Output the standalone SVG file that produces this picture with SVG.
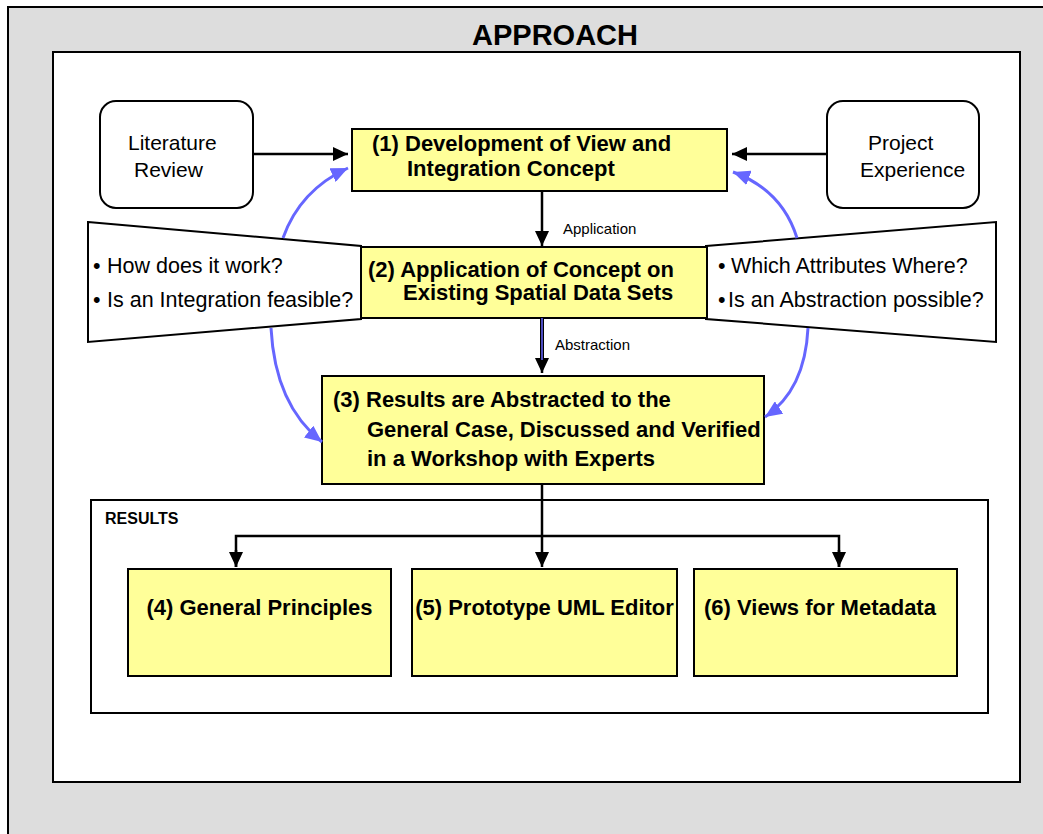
<svg xmlns="http://www.w3.org/2000/svg" width="1043" height="834" viewBox="0 0 1043 834">
<defs>
<style>
.t{font-family:"Liberation Sans",Arial,sans-serif;fill:#000}
.b{font-weight:bold;font-size:22px}
.r{font-size:21px}
.q{font-size:21.5px}
.s{font-size:15px}
.box{fill:#ffff99;stroke:#000;stroke-width:2}
.wb{fill:#fff;stroke:#000;stroke-width:2}
.ln{fill:none;stroke:#000;stroke-width:2.5}
.bl{fill:none;stroke:#6666ff;stroke-width:3}
</style>
<marker id="ah" markerUnits="userSpaceOnUse" markerWidth="15" markerHeight="14" refX="15" refY="7" orient="auto"><path d="M0,0 L15,7 L0,14 z" fill="#000"/></marker>
<marker id="bh" markerUnits="userSpaceOnUse" markerWidth="17" markerHeight="15" refX="17" refY="7.5" orient="auto"><path d="M0,0 L17,7.5 L0,15 z" fill="#6666ff"/></marker>
</defs>
<g id="frame">
<rect x="8" y="7" width="1100" height="900" fill="#dddddd" stroke="#000" stroke-width="2"/>
<text class="t" x="555" y="45" text-anchor="middle" font-size="29" font-weight="bold">APPROACH</text>
<rect x="53" y="52" width="967" height="730" fill="#fff" stroke="#000" stroke-width="2"/>
</g>
<g id="results-frame">
<rect x="91" y="500" width="897" height="213" class="wb"/>
<text class="t" x="105" y="524" font-size="16" font-weight="bold">RESULTS</text>
</g>
<g id="literature">
<rect x="100" y="101" width="153" height="107" rx="16" class="wb"/>
<text class="t r" x="128" y="150">Literature</text>
<text class="t r" x="134" y="177">Review</text>
</g>
<g id="project">
<rect x="827" y="101" width="152" height="107" rx="16" class="wb"/>
<text class="t r" x="868" y="150">Project</text>
<text class="t r" x="860" y="177">Experience</text>
</g>
<g id="questions-left">
<polygon points="88,222 361,246 361,319 88,342" class="wb"/>
<text class="t q" x="93" y="273">•</text>
<text class="t q" x="107" y="273">How does it work?</text>
<text class="t q" x="93" y="307">•</text>
<text class="t q" x="107" y="307">Is an Integration feasible?</text>
</g>
<g id="questions-right">
<polygon points="706,246 996,222 996,342 706,319" class="wb"/>
<text class="t q" x="718" y="273">•</text>
<text class="t q" x="731" y="273">Which Attributes Where?</text>
<text class="t q" x="718" y="307">•</text>
<text class="t q" x="728" y="307">Is an Abstraction possible?</text>
</g>
<g id="step1">
<rect x="352" y="129" width="375" height="62" class="box"/>
<text class="t b" x="372" y="151">(1) Development of View and</text>
<text class="t b" x="407" y="176">Integration Concept</text>
</g>
<g id="step2">
<rect x="361" y="247" width="346" height="71" class="box"/>
<text class="t b" x="368" y="277">(2) Application of Concept on</text>
<text class="t b" x="403" y="300">Existing Spatial Data Sets</text>
</g>
<g id="step3">
<rect x="322" y="376" width="442" height="108" class="box"/>
<text class="t b" x="333" y="407">(3) Results are Abstracted to the</text>
<text class="t b" x="367" y="437">General Case, Discussed and Verified</text>
<text class="t b" x="367" y="466">in a Workshop with Experts</text>
</g>
<g id="result4">
<rect x="128" y="569" width="263" height="107" class="box"/>
<text class="t b" x="259.5" y="615" text-anchor="middle">(4) General Principles</text>
</g>
<g id="result5">
<rect x="412" y="569" width="265" height="107" class="box"/>
<text class="t b" x="544.5" y="615" text-anchor="middle">(5) Prototype UML Editor</text>
</g>
<g id="result6">
<rect x="694" y="569" width="263" height="107" class="box"/>
<text class="t b" x="820" y="615" text-anchor="middle">(6) Views for Metadata</text>
</g>
<g id="connectors">
<line x1="253" y1="154" x2="348" y2="154" class="ln" marker-end="url(#ah)"/>
<line x1="827" y1="154" x2="732" y2="154" class="ln" marker-end="url(#ah)"/>
<line x1="542" y1="191" x2="542" y2="246" class="ln" marker-end="url(#ah)"/>
<text class="t s" x="563" y="234">Application</text>
<line x1="542" y1="318" x2="542" y2="360" stroke="#000" stroke-width="4"/>
<line x1="542" y1="318" x2="542" y2="373" class="ln" stroke-width="0.1" marker-end="url(#ah)"/>
<line x1="542" y1="318" x2="542" y2="360" stroke="#6666ff" stroke-width="1.5"/>
<text class="t s" x="555" y="350">Abstraction</text>
<path d="M283,238 Q300,190 348,168" class="bl" marker-end="url(#bh)"/>
<path d="M271,328 Q275,405 322,442" class="bl" marker-end="url(#bh)"/>
<path d="M797,238 Q782,190 733,172" class="bl" marker-end="url(#bh)"/>
<path d="M808,328 Q805,390 765,417" class="bl" marker-end="url(#bh)"/>
<line x1="542" y1="484" x2="542" y2="567" class="ln" marker-end="url(#ah)"/>
<polyline points="236,567 236,536 839,536 839,567" class="ln"/>
<line x1="236" y1="550" x2="236" y2="567" class="ln" marker-end="url(#ah)"/>
<line x1="839" y1="550" x2="839" y2="567" class="ln" marker-end="url(#ah)"/>
</g>
</svg>
